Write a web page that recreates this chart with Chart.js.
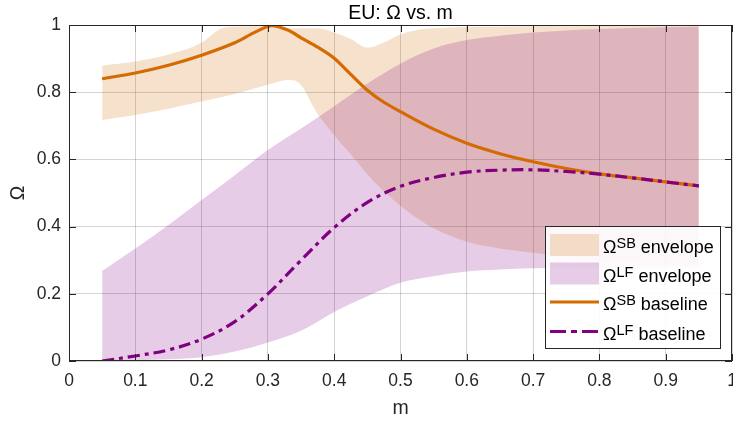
<!DOCTYPE html>
<html>
<head>
<meta charset="utf-8">
<script src="https://cdn.jsdelivr.net/npm/chart.js@4.4.0/dist/chart.umd.min.js"></script>
<style>
  html, body { margin: 0; padding: 0; background: #fff; }
  #wrap { width: 733px; height: 425px; }
</style>
</head>
<body>
<div id="wrap"><canvas id="chart" width="733" height="425"></canvas></div>
<script>
// SB envelope (upper / lower bound)
const mSB = [0.05, 0.1, 0.15, 0.2, 0.23, 0.25, 0.3, 0.33, 0.345, 0.375, 0.4, 0.425, 0.45, 0.475, 0.5, 0.525, 0.55, 0.6, 0.65, 0.7, 0.75, 0.8, 0.85, 0.9, 0.95];
const sbUpper = [0.879, 0.891, 0.912, 0.947, 0.99, 0.995, 0.996, 0.988, 0.99, 0.99, 0.978, 0.958, 0.932, 0.948, 0.972, 0.985, 0.99, 0.994, 0.995, 0.996, 0.996, 0.997, 0.997, 0.997, 0.997];
const sbLower = [0.717, 0.732, 0.751, 0.772, 0.786, 0.795, 0.822, 0.836, 0.83, 0.735, 0.672, 0.615, 0.556, 0.505, 0.462, 0.425, 0.395, 0.355, 0.335, 0.322, 0.31, 0.30, 0.295, 0.29, 0.287];

// LF envelope
const mLF = [0.05, 0.1, 0.15, 0.2, 0.25, 0.3, 0.35, 0.4, 0.45, 0.5, 0.55, 0.6, 0.65, 0.7, 0.75, 0.8, 0.85, 0.9, 0.95];
const lfUpper = [0.268, 0.335, 0.405, 0.479, 0.553, 0.628, 0.692, 0.758, 0.826, 0.885, 0.93, 0.955, 0.968, 0.978, 0.984, 0.988, 0.991, 0.993, 0.995];
const lfLower = [0.0, 0.002, 0.005, 0.011, 0.028, 0.055, 0.09, 0.146, 0.193, 0.233, 0.252, 0.266, 0.272, 0.276, 0.277, 0.278, 0.278, 0.278, 0.278];

// baselines
const mBase = [0.05, 0.1, 0.15, 0.2, 0.25, 0.28, 0.305, 0.33, 0.35, 0.375, 0.4, 0.425, 0.45, 0.475, 0.5, 0.55, 0.6, 0.65, 0.7, 0.75, 0.8, 0.85, 0.9, 0.95];
const sbBaseline = [0.840, 0.857, 0.880, 0.910, 0.947, 0.978, 0.998, 0.985, 0.962, 0.934, 0.901, 0.853, 0.806, 0.770, 0.742, 0.690, 0.648, 0.617, 0.593, 0.573, 0.557, 0.545, 0.533, 0.521];
const lfBaseline = [0.0, 0.015, 0.033, 0.065, 0.117, 0.2, 0.3, 0.397, 0.472, 0.52, 0.546, 0.562, 0.568, 0.569, 0.564, 0.556, 0.545, 0.533, 0.521];

// ticks
const xTicks = [0, 0.1, 0.2, 0.3, 0.4, 0.5, 0.6, 0.7, 0.8, 0.9, 1];
const yTicks = [0, 0.2, 0.4, 0.6, 0.8, 1];

const FONT = "'Liberation Sans', Arial, Helvetica, sans-serif";
const ORANGE = "#D46A00";
const PURPLE = "#800080";
const SB_FILL = "rgba(212,106,0,0.2)";
const LF_FILL = "rgba(128,0,128,0.2)";
const AXIS = "#262626";

function pts(xs, ys) {
  return xs.map((x, i) => ({ x: x, y: ys[i] }));
}

// legend entries: [main, superscript, rest, kind]
const legendItems = [
  ["\u03A9", "SB", "envelope", "sbPatch"],
  ["\u03A9", "LF", "envelope", "lfPatch"],
  ["\u03A9", "SB", "baseline", "sbLine"],
  ["\u03A9", "LF", "baseline", "lfLine"]
];

// box, inward ticks, title and legend
const decor = {
  id: "decor",
  beforeDraw(chart) {
    const ctx = chart.ctx;
    ctx.save();
    ctx.fillStyle = "#fff";
    ctx.fillRect(0, 0, chart.width, chart.height);
    ctx.restore();
  },
  afterDatasetsDraw(chart) {
    const ctx = chart.ctx;
    const a = chart.chartArea;
    const xs = chart.scales.x, ys = chart.scales.y;
    ctx.save();

    // axes box
    ctx.strokeStyle = AXIS;
    ctx.lineWidth = 1;
    ctx.strokeRect(a.left + 0.5, a.top + 0.5, a.width - 1, a.height - 1);

    // inward ticks on all four sides
    ctx.beginPath();
    xTicks.forEach(v => {
      const px = Math.round(xs.getPixelForValue(v)) + 0.5;
      ctx.moveTo(px, a.bottom); ctx.lineTo(px, a.bottom - 7);
      ctx.moveTo(px, a.top); ctx.lineTo(px, a.top + 7);
    });
    yTicks.forEach(v => {
      const py = Math.round(ys.getPixelForValue(v)) + 0.5;
      ctx.moveTo(a.left, py); ctx.lineTo(a.left + 7, py);
      ctx.moveTo(a.right, py); ctx.lineTo(a.right - 7, py);
    });
    ctx.stroke();

    // title
    ctx.fillStyle = "#000";
    ctx.font = "19.5px " + FONT;
    ctx.textAlign = "center";
    ctx.textBaseline = "alphabetic";
    ctx.fillText("EU: \u03A9 vs. m", (a.left + a.right) / 2, 18.5);

    // legend
    const lw = 175, lh = 122;
    const lx = a.right - 12 - lw, ly = a.bottom - 13 - lh;
    ctx.fillStyle = "rgba(255,255,255,0.9)";
    ctx.fillRect(lx, ly, lw, lh);
    ctx.strokeStyle = AXIS;
    ctx.strokeRect(Math.round(lx) + 0.5, Math.round(ly) + 0.5, lw, lh);

    const rowY = [19, 47.5, 76, 105.5];
    legendItems.forEach((it, i) => {
      const cy = ly + rowY[i];
      const sx = lx + 5, sw = 49;
      if (it[3] === "sbPatch" || it[3] === "lfPatch") {
        ctx.fillStyle = it[3] === "sbPatch" ? SB_FILL : LF_FILL;
        ctx.fillRect(sx, cy - 11, sw, 22);
      } else {
        ctx.beginPath();
        ctx.lineWidth = 3.2;
        ctx.strokeStyle = it[3] === "sbLine" ? ORANGE : PURPLE;
        ctx.setLineDash(it[3] === "sbLine" ? [] : [16, 5, 6, 5]);
        ctx.moveTo(sx, cy); ctx.lineTo(sx + sw, cy);
        ctx.stroke();
        ctx.setLineDash([]);
      }
      ctx.fillStyle = "#000";
      ctx.textAlign = "left";
      ctx.textBaseline = "alphabetic";
      let tx = lx + 58;
      const base = cy + 8;
      ctx.font = "18px " + FONT;
      ctx.fillText(it[0], tx, base);
      tx += ctx.measureText(it[0]).width;
      ctx.font = "14.5px " + FONT;
      ctx.fillText(it[1], tx, base - 5);
      tx += ctx.measureText(it[1]).width + 5;
      ctx.font = "18px " + FONT;
      ctx.fillText(it[2], tx, base);
    });

    ctx.restore();
  }
};

new Chart(document.getElementById("chart"), {
  type: "line",
  data: {
    datasets: [
      { label: "sbUpper", data: pts(mSB, sbUpper), borderWidth: 0, pointRadius: 0, fill: false, order: 6, cubicInterpolationMode: "monotone" },
      { label: "sbLower", data: pts(mSB, sbLower), borderWidth: 0, pointRadius: 0, fill: "-1", backgroundColor: SB_FILL, order: 5, cubicInterpolationMode: "monotone" },
      { label: "lfUpper", data: pts(mLF, lfUpper), borderWidth: 0, pointRadius: 0, fill: false, order: 4, cubicInterpolationMode: "monotone" },
      { label: "lfLower", data: pts(mLF, lfLower), borderWidth: 0, pointRadius: 0, fill: "-1", backgroundColor: LF_FILL, order: 3, cubicInterpolationMode: "monotone" },
      { label: "sbBaseline", data: pts(mBase, sbBaseline), borderColor: ORANGE, borderWidth: 3.2, pointRadius: 0, fill: false, order: 2, tension: 0.3 },
      { label: "lfBaseline", data: pts(mLF, lfBaseline), borderColor: PURPLE, borderWidth: 3.2, borderDash: [12, 5, 4, 5], pointRadius: 0, fill: false, order: 1, tension: 0.35 }
    ]
  },
  options: {
    responsive: false,
    animation: false,
    layout: { padding: { top: 25, right: 1, left: 0, bottom: 0 } },
    plugins: {
      legend: { display: false },
      title: { display: false },
      tooltip: { enabled: false }
    },
    scales: {
      x: {
        type: "linear",
        min: 0,
        max: 1,
        afterBuildTicks: s => { s.ticks = xTicks.map(v => ({ value: v })); },
        afterFit: s => { s.height = 64; s.paddingLeft = 0; s.paddingRight = 0; },
        ticks: {
          autoSkip: false,
          maxRotation: 0,
          padding: 10,
          color: AXIS,
          font: { family: FONT, size: 17.5 },
          callback: v => String(v)
        },
        grid: { color: "rgba(38,38,38,0.2)", drawTicks: false },
        border: { display: false },
        title: { display: true, text: "m", color: AXIS, font: { family: FONT, size: 19.5 }, padding: { top: 0, bottom: 5 } }
      },
      y: {
        min: 0,
        max: 1,
        afterBuildTicks: s => { s.ticks = yTicks.map(v => ({ value: v })); },
        afterFit: s => { s.width = 69; s.paddingTop = 0; s.paddingBottom = 0; },
        ticks: {
          autoSkip: false,
          padding: 8,
          color: AXIS,
          font: { family: FONT, size: 17.5 },
          callback: v => String(v)
        },
        grid: { color: "rgba(38,38,38,0.2)", drawTicks: false },
        border: { display: false },
        title: { display: true, text: "\u03A9", color: AXIS, font: { family: FONT, size: 19.5 }, padding: { top: 7, bottom: 0 } }
      }
    }
  },
  plugins: [decor]
});
</script>
</body>
</html>
